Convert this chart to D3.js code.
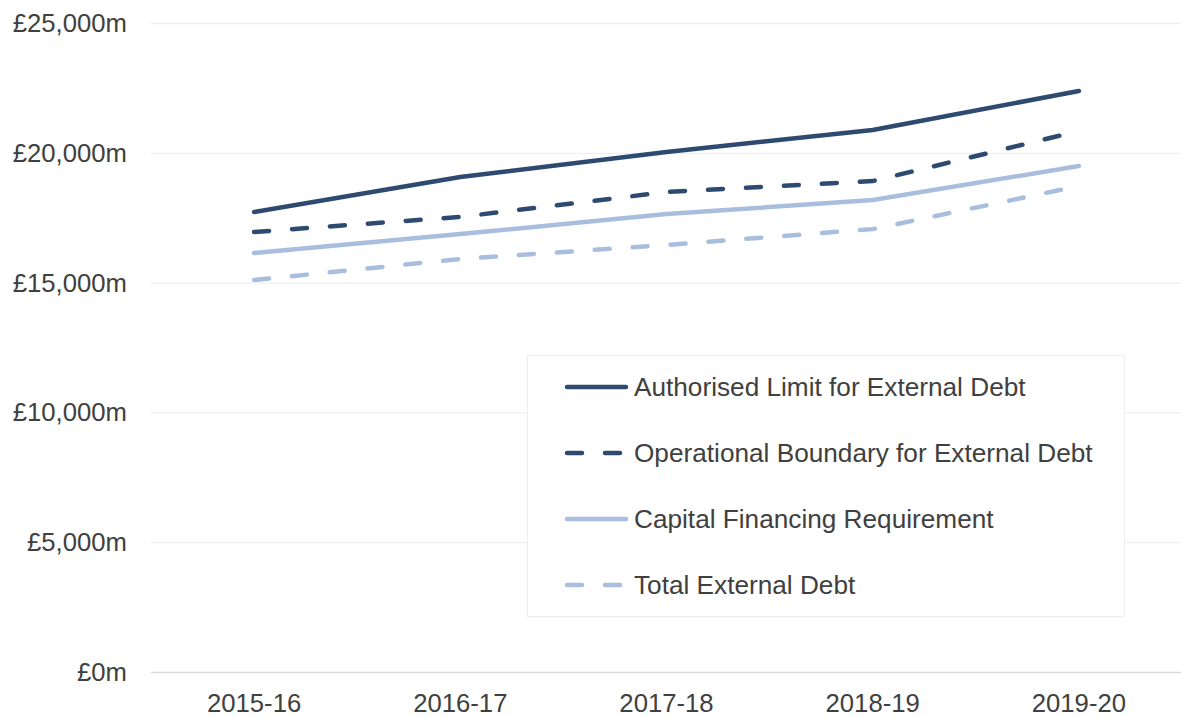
<!DOCTYPE html>
<html>
<head>
<meta charset="utf-8">
<script src="https://cdn.jsdelivr.net/npm/d3@7.9.0/dist/d3.min.js"></script>
<style>
  html, body { margin: 0; padding: 0; background: #fff; }
  svg { display: block; font-family: "Liberation Sans", Arial, sans-serif; }
</style>
</head>
<body>
<svg id="chart" width="1181" height="717"></svg>
<script>
// ── Data ─────────────────────────────────────────────────────────────────────
const years = ['2015-16', '2016-17', '2017-18', '2018-19', '2019-20'];
const yTicks = [0, 5000, 10000, 15000, 20000, 25000];

const authorisedLimit = [17720, 19070, 20030, 20880, 22380];
const operationalBoundary = [16950, 17530, 18490, 18910, 20840];
const capitalFinancing = [16140, 16870, 17640, 18180, 19490];
const totalExternalDebt = [15100, 15910, 16450, 17060, 18720];

const seriesNames = [
  'Authorised Limit for External Debt',
  'Operational Boundary for External Debt',
  'Capital Financing Requirement',
  'Total External Debt',
];

const dark = '#2e4a70';
const light = '#a9bede';

const series = [
  { name: seriesNames[0], values: authorisedLimit, color: dark, dash: null },
  { name: seriesNames[1], values: operationalBoundary, color: dark, dash: '15,23' },
  { name: seriesNames[2], values: capitalFinancing, color: light, dash: null },
  { name: seriesNames[3], values: totalExternalDebt, color: light, dash: '15,23' },
];

// ── Layout ───────────────────────────────────────────────────────────────────
const svg = d3.select('#chart');
const plot = { left: 151, right: 1182, top: 23, bottom: 672 };

const x = d3.scaleBand().domain(years).range([plot.left, plot.right]);
const y = d3.scaleLinear().domain([0, 25000]).range([plot.bottom, plot.top]);

// Gridlines
svg.append('g')
  .selectAll('line')
  .data(yTicks)
  .join('line')
  .attr('x1', plot.left)
  .attr('x2', plot.right)
  .attr('y1', (d) => y(d) + 0.5)
  .attr('y2', (d) => y(d) + 0.5)
  .attr('stroke', (d) => (d === 0 ? '#d9d9d9' : '#efefef'))
  .attr('stroke-width', 1.3);

// Y labels
const fmt = d3.format(',');
svg.append('g')
  .selectAll('text')
  .data(yTicks)
  .join('text')
  .attr('x', 127)
  .attr('y', (d) => y(d))
  .attr('dy', '0.35em')
  .attr('text-anchor', 'end')
  .attr('fill', '#404040')
  .style('font-size', '25.7px')
  .text((d) => '£' + fmt(d) + 'm');

// X labels
svg.append('g')
  .selectAll('text')
  .data(years)
  .join('text')
  .attr('x', (d) => x(d) + x.bandwidth() / 2)
  .attr('y', 703)
  .attr('dy', '0.35em')
  .attr('text-anchor', 'middle')
  .attr('fill', '#404040')
  .style('font-size', '25.7px')
  .text((d) => d);

// Lines
const line = d3.line()
  .x((d, i) => x(years[i]) + x.bandwidth() / 2)
  .y((d) => y(d));

svg.append('g')
  .selectAll('path')
  .data(series)
  .join('path')
  .attr('d', (d) => line(d.values))
  .attr('fill', 'none')
  .attr('stroke', (d) => d.color)
  .attr('stroke-width', 4.5)
  .attr('stroke-linecap', 'round')
  .attr('stroke-linejoin', 'round')
  .attr('stroke-dasharray', (d) => d.dash);

// Legend
const legend = svg.append('g');
legend.append('rect')
  .attr('x', 527.5)
  .attr('y', 355.5)
  .attr('width', 597)
  .attr('height', 261)
  .attr('fill', '#fff')
  .attr('stroke', '#efefef')
  .attr('stroke-width', 1.3);

const rowY = d3.scalePoint().domain(seriesNames).range([387, 585]);

const items = legend.selectAll('g.item')
  .data(series)
  .join('g')
  .attr('class', 'item')
  .attr('transform', (d) => `translate(0, ${rowY(d.name)})`);

items.append('line')
  .attr('x1', 567)
  .attr('x2', 626)
  .attr('stroke', (d) => d.color)
  .attr('stroke-width', 4.5)
  .attr('stroke-linecap', 'round')
  .attr('stroke-dasharray', (d) => d.dash);

items.append('text')
  .attr('x', 634)
  .attr('dy', '0.35em')
  .attr('fill', '#404040')
  .style('font-size', '26.2px')
  .text((d) => d.name);
</script>
</body>
</html>
